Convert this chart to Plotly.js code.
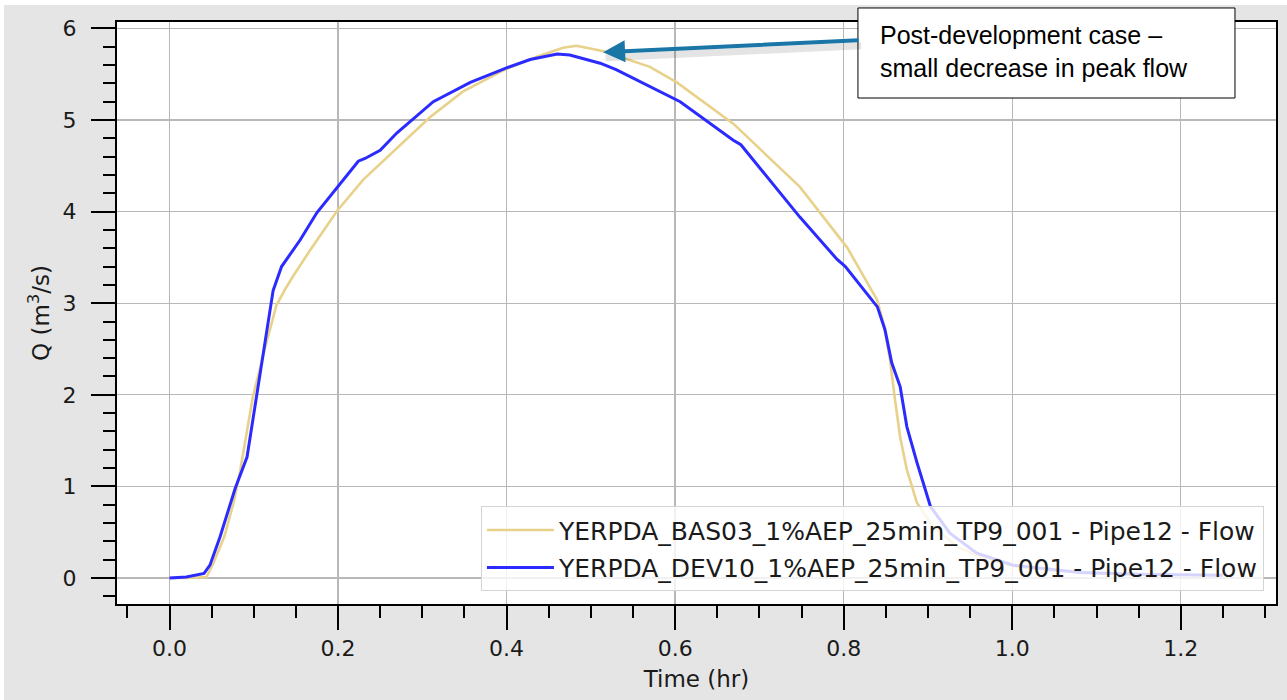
<!DOCTYPE html>
<html>
<head>
<meta charset="utf-8">
<script src="https://cdn.plot.ly/plotly-3.0.1.min.js"></script>
<style>html,body{margin:0;padding:0;background:#e5e5e5;}#chart{width:1287px;height:700px;}</style>
</head>
<body>
<div id="chart"></div>
<script>
// Series names
const nameBas = "YERPDA_BAS03_1%AEP_25min_TP9_001 - Pipe12 - Flow";
const nameDev = "YERPDA_DEV10_1%AEP_25min_TP9_001 - Pipe12 - Flow";

// BAS03 (pre-development) flow, Time (hr) vs Q (m3/s)
const basTime = [0, 0.02, 0.044, 0.052, 0.065, 0.076, 0.084, 0.099, 0.115, 0.127, 0.139, 0.147, 0.167, 0.175, 0.199, 0.23, 0.27, 0.309, 0.348, 0.40, 0.436, 0.467, 0.483, 0.515, 0.57, 0.602, 0.669, 0.748, 0.804, 0.84, 0.848, 0.855, 0.861, 0.867, 0.875, 0.887, 0.906, 0.935, 0.97, 1.006, 1.05, 1.1, 1.2, 1.25];
const basFlow = [0, 0, 0.01, 0.16, 0.45, 0.82, 1.18, 1.98, 2.57, 2.98, 3.18, 3.30, 3.58, 3.69, 4.01, 4.35, 4.70, 5.03, 5.31, 5.56, 5.69, 5.79, 5.81, 5.75, 5.58, 5.41, 4.96, 4.27, 3.61, 3.03, 2.75, 2.38, 1.94, 1.54, 1.18, 0.82, 0.56, 0.34, 0.20, 0.12, 0.08, 0.05, 0.03, 0.03];

// DEV10 (post-development) flow
const devTime = [0, 0.02, 0.041, 0.048, 0.06, 0.078, 0.092, 0.104, 0.111, 0.119, 0.123, 0.133, 0.147, 0.155, 0.175, 0.199, 0.224, 0.232, 0.25, 0.27, 0.313, 0.357, 0.40, 0.428, 0.46, 0.475, 0.483, 0.511, 0.53, 0.57, 0.606, 0.669, 0.678, 0.748, 0.792, 0.802, 0.84, 0.849, 0.857, 0.867, 0.875, 0.887, 0.903, 0.926, 0.958, 1.001, 1.045, 1.081, 1.15, 1.25];
const devFlow = [0, 0.01, 0.05, 0.14, 0.45, 0.98, 1.32, 2.02, 2.46, 2.89, 3.14, 3.40, 3.58, 3.69, 3.99, 4.27, 4.55, 4.58, 4.67, 4.86, 5.20, 5.41, 5.57, 5.66, 5.72, 5.71, 5.69, 5.62, 5.55, 5.37, 5.20, 4.78, 4.73, 3.94, 3.48, 3.40, 2.96, 2.71, 2.35, 2.09, 1.65, 1.26, 0.78, 0.49, 0.27, 0.14, 0.10, 0.06, 0.04, 0.03];

// Annotation
const noteText = "Post-development case –<br>small decrease in peak flow";
const notePoint = {x: 0.5145, y: 5.74};

const axisFont = {family: "DejaVu Sans", size: 22, color: "#1a1a1a"};

const traces = [
  {x: basTime, y: basFlow, name: nameBas, mode: "lines", legendgroup: "a",
   line: {color: "#e8d18a", width: 2.6}},
  {x: devTime, y: devFlow, name: nameDev, mode: "lines", legendgroup: "b",
   line: {color: "#2b2bff", width: 3}}
];

const layout = {
  width: 1287, height: 700,
  paper_bgcolor: "#e5e5e5", plot_bgcolor: "#ffffff",
  margin: {l: 117, r: 11, t: 22, b: 96},
  showlegend: true,
  font: axisFont,
  xaxis: {
    range: [-0.0623, 1.313], dtick: 0.2, tick0: 0, tickformat: ".1f",
    ticks: "outside", ticklen: 24, tickwidth: 2, tickcolor: "#000",
    minor: {ticks: "outside", ticklen: 12, tickwidth: 2, tickcolor: "#000", dtick: 0.05, tick0: 0, showgrid: false},
    showline: true, linecolor: "#000", linewidth: 2, mirror: true,
    showgrid: true, gridcolor: "#b8b8b8", gridwidth: 1.3, zeroline: false,
    tickfont: axisFont,
    title: {text: "Time (hr)", font: {family: "DejaVu Sans", size: 23, color: "#1a1a1a"}, standoff: 10}
  },
  yaxis: {
    range: [-0.284, 6.07], dtick: 1, tick0: 0,
    ticks: "outside", ticklen: 24, tickwidth: 2, tickcolor: "#000",
    ticklabelstandoff: 10,
    minor: {ticks: "outside", ticklen: 12, tickwidth: 2, tickcolor: "#000", dtick: 0.2, tick0: 0, showgrid: false},
    showline: true, linecolor: "#000", linewidth: 2, mirror: true,
    showgrid: true, gridcolor: "#b8b8b8", gridwidth: 1.3, zeroline: false,
    tickfont: axisFont,
    title: {text: "Q (m<sup>3</sup>/s)", font: {family: "DejaVu Sans", size: 23, color: "#1a1a1a"}, standoff: 7}
  },
  legend: {
    x: 0.9896, xanchor: "right", y: 0.022, yanchor: "bottom",
    bgcolor: "rgba(255,255,255,0.8)", bordercolor: "#d4d4d4", borderwidth: 1,
    font: {family: "DejaVu Sans", size: 25, color: "#1a1a1a"},
    itemwidth: 67,
    traceorder: "grouped", tracegroupgap: 2
  },
  shapes: [
    {type: "rect", xref: "paper", yref: "paper", x0: -0.102, x1: -0.0975, y0: -0.17, y1: 1.04, fillcolor: "#ffffff", line: {width: 0}, layer: "below"},
    {type: "rect", xref: "paper", yref: "paper", x0: -0.102, x1: 1.01, y0: 1.0292, y1: 1.04, fillcolor: "#ffffff", line: {width: 0}, layer: "below"},
    {type: "rect", xref: "paper", yref: "paper", x0: 0.6393, x1: 0.9646, y0: 0.8694, y1: 1.0241, fillcolor: "#ffffff", line: {color: "#000", width: 1}, layer: "above"}
  ],
  annotations: [
    {x: notePoint.x + 0.003, y: notePoint.y - 0.06, xref: "x", yref: "y", text: "", showarrow: true,
     ax: 257, ay: -12, arrowhead: 0, arrowwidth: 7, arrowcolor: "rgba(0,0,0,0.10)"},
    {x: notePoint.x, y: notePoint.y, xref: "x", yref: "y", text: "", showarrow: true,
     ax: 257, ay: -12, arrowhead: 2, arrowsize: 1.1, arrowwidth: 4, arrowcolor: "#1a76a6"},
    {x: 0.6566, y: 0.9485, xref: "paper", yref: "paper", xanchor: "left", yanchor: "middle",
     text: noteText, showarrow: false, align: "left",
     font: {family: "Liberation Sans, Arial, sans-serif", size: 25, color: "#000"}}
  ]
};

Plotly.newPlot("chart", traces, layout, {displayModeBar: false, staticPlot: true});
</script>
</body>
</html>
